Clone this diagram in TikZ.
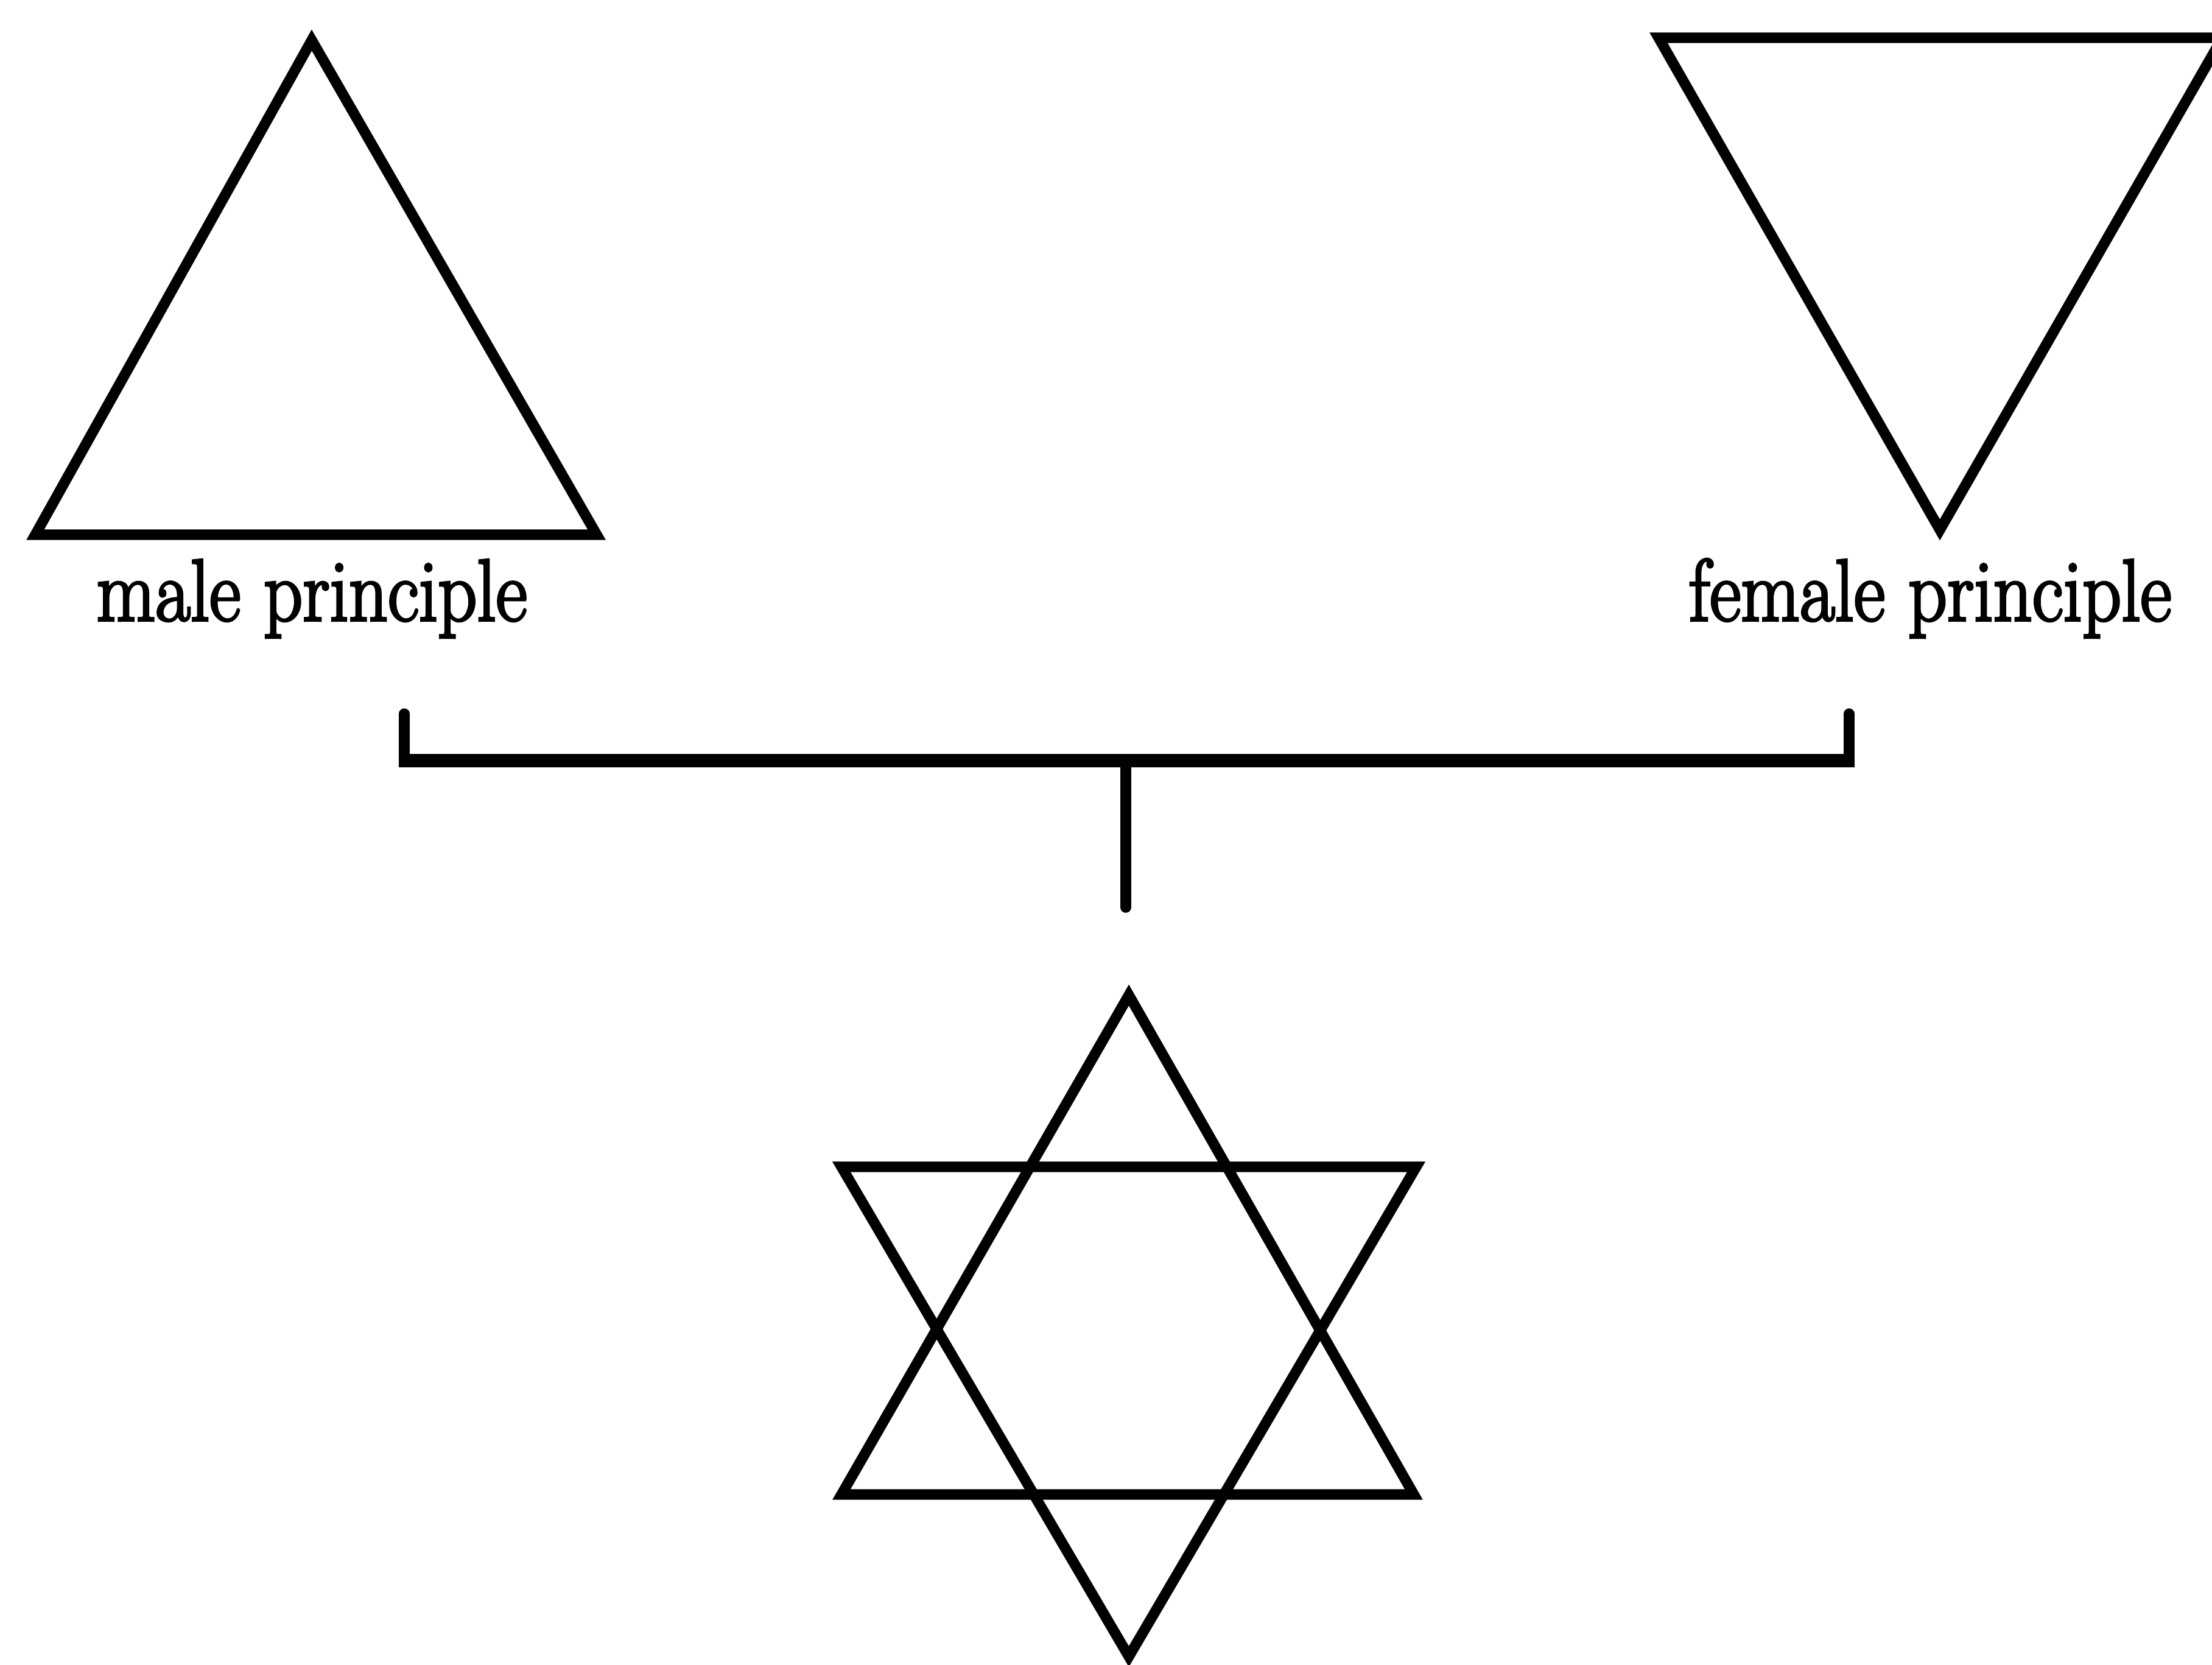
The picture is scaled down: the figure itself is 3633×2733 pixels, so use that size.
\documentclass[tikz,border=0pt]{standalone}
\usepackage{graphicx}
\usepackage{fontspec}
\newfontfamily\capfont[FakeBold=3]{Latin Modern Roman}
\begin{document}
\begin{tikzpicture}[x=0.01cm,y=-0.01cm,
  figline/.style={draw=black,line width=4.9pt,line join=miter},
  thinline/.style={draw=black,line width=5pt,line cap=round},
  thickline/.style={draw=black,line width=6.2pt},
  caption/.style={font=\capfont\fontsize{41}{44}\selectfont,anchor=base,inner sep=0pt}]
\useasboundingbox (0,0) rectangle (3633,2733);
\clip (0,0) rectangle (3633,2733);
% male triangle
\coordinate (mA) at (512,66);
\coordinate (mL) at (58,878);
\coordinate (mR) at (980,878);
\draw[figline] (mA) -- (mL) -- (mR) -- cycle;
% female triangle
\coordinate (fL) at (2724,62);
\coordinate (fR) at (3650,62);
\coordinate (fB) at (3186,870);
\draw[figline] (fL) -- (fR) -- (fB) -- cycle;
% labels
\node[caption] (male) at (512,1019) {\scalebox{0.87}[1]{male principle}};
\node[caption] (female) at (3170,1019) {\scalebox{0.87}[1]{female principle}};
% bracket
\coordinate (bLt) at (664,1172);
\coordinate (bLb) at (664,1249);
\coordinate (bRt) at (3037,1172);
\coordinate (bRb) at (3037,1249);
\coordinate (sT) at (1849,1249);
\coordinate (sB) at (1849,1490);
\draw[thinline] (bLt) -- (bLb);
\draw[thinline] (bRt) -- (bRb);
\draw[thickline] ([xshift=-2.5pt]bLb) -- ([xshift=2.5pt]bRb);
\draw[thinline] (sT) -- (sB);
% star
\coordinate (uA) at (1854,1634);
\coordinate (uL) at (1382,2454);
\coordinate (uR) at (2322,2454);
\coordinate (dL) at (1382,1916);
\coordinate (dR) at (2326,1916);
\coordinate (dB) at (1854,2720);
\draw[figline] (uA) -- (uL) -- (uR) -- cycle;
\draw[figline] (dL) -- (dR) -- (dB) -- cycle;
\end{tikzpicture}
\end{document}
